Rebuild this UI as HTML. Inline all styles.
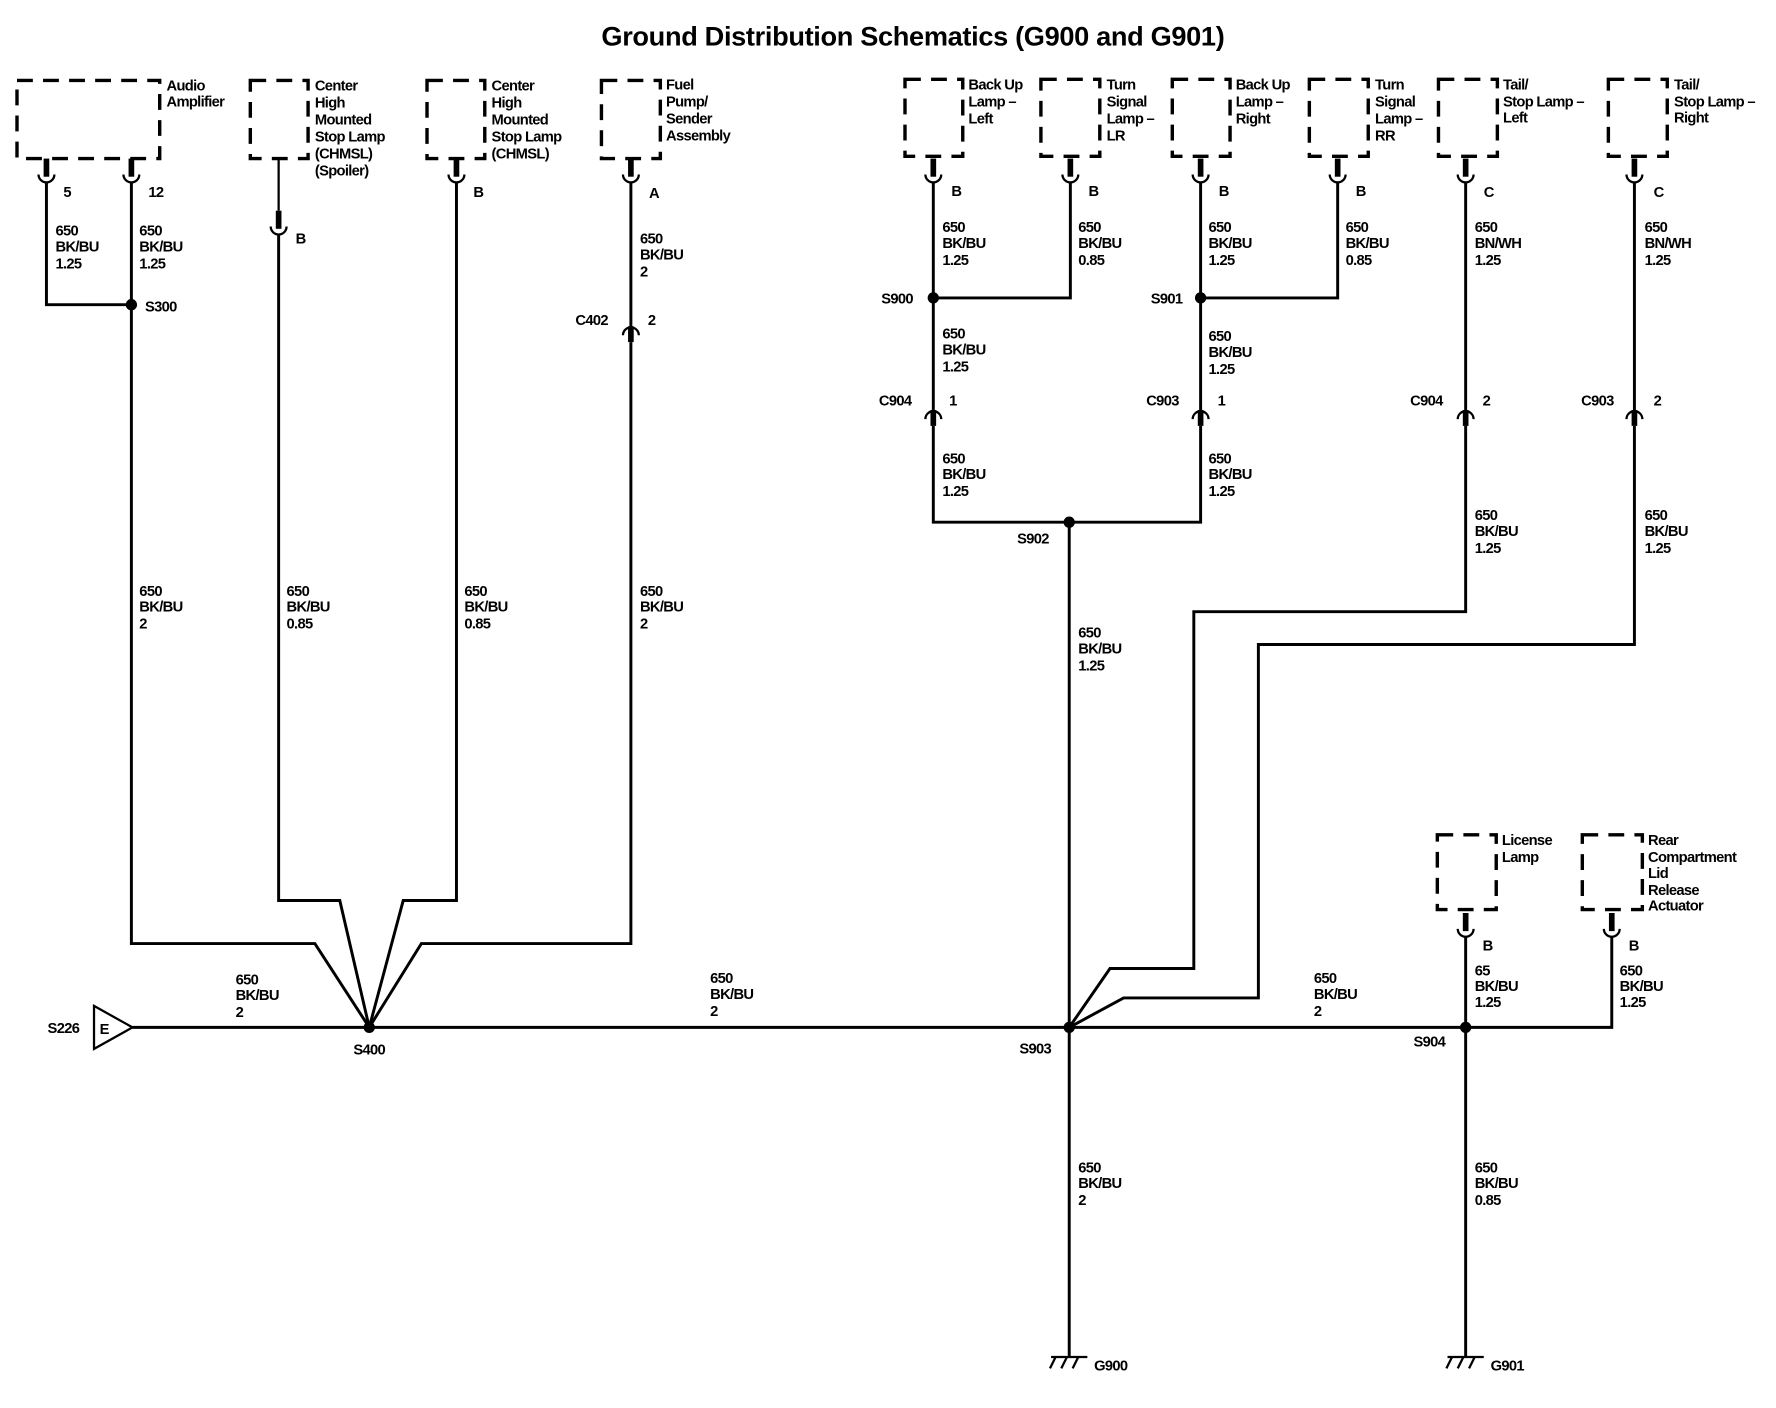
<!DOCTYPE html>
<html><head><meta charset="utf-8"><style>
html,body{margin:0;padding:0;background:#fff}
svg{display:block}
text{font-family:"Liberation Sans",Arial,sans-serif;font-size:13px;fill:#000;letter-spacing:-0.6px;font-weight:bold}
.t{font-size:24px;letter-spacing:-0.3px}
.w{stroke:#000;stroke-width:2.6;fill:none}
.d{stroke:#000;stroke-width:3;fill:none;stroke-dasharray:14,9}
.s{stroke:#000;stroke-width:2;fill:none}
.st{stroke:#000;stroke-width:5;fill:none}
</style></head><body>
<svg width="1776" height="1408" viewBox="0 0 1568 1243" preserveAspectRatio="none" xmlns="http://www.w3.org/2000/svg">
<defs>
<g id="cup"><path class="st" d="M0,-14 V2"/><path class="s" d="M-7,0 A7,7 0 0 0 7,0"/></g>
<g id="cupd"><path class="st" d="M0,0 V14"/><path class="s" d="M-7,8 A7,7 0 0 1 7,8"/></g>
</defs>
<text x="806" y="40" text-anchor="middle" class="t">Ground Distribution Schematics (G900 and G901)</text>

<!-- boxes -->
<rect class="d" x="15" y="71" width="126" height="69"/>
<rect class="d" x="221" y="71" width="51" height="69"/>
<rect class="d" x="377" y="71" width="51" height="69"/>
<rect class="d" x="531" y="71" width="52" height="69"/>
<rect class="d" x="799" y="70" width="51" height="68"/>
<rect class="d" x="919" y="70" width="52" height="68"/>
<rect class="d" x="1035" y="70" width="51" height="68"/>
<rect class="d" x="1156" y="70" width="52" height="68"/>
<rect class="d" x="1270" y="70" width="52" height="68"/>
<rect class="d" x="1420" y="70" width="52" height="68"/>
<rect class="d" x="1269" y="737" width="52" height="66"/>
<rect class="d" x="1397" y="737" width="53" height="66"/>

<g text-anchor="start">
<text x="147" y="80">Audio</text><text x="147" y="94">Amplifier</text>
<text x="278" y="80">Center</text><text x="278" y="95">High</text><text x="278" y="110">Mounted</text><text x="278" y="125">Stop Lamp</text><text x="278" y="140">(CHMSL)</text><text x="278" y="155">(Spoiler)</text>
<text x="434" y="80">Center</text><text x="434" y="95">High</text><text x="434" y="110">Mounted</text><text x="434" y="125">Stop Lamp</text><text x="434" y="140">(CHMSL)</text>
<text x="588" y="79">Fuel</text><text x="588" y="94">Pump/</text><text x="588" y="109">Sender</text><text x="588" y="124">Assembly</text>
<text x="855" y="79">Back Up</text><text x="855" y="94">Lamp –</text><text x="855" y="109">Left</text>
<text x="977" y="79">Turn</text><text x="977" y="94">Signal</text><text x="977" y="109">Lamp –</text><text x="977" y="124">LR</text>
<text x="1091" y="79">Back Up</text><text x="1091" y="94">Lamp –</text><text x="1091" y="109">Right</text>
<text x="1214" y="79">Turn</text><text x="1214" y="94">Signal</text><text x="1214" y="109">Lamp –</text><text x="1214" y="124">RR</text>
<text x="1327" y="79">Tail/</text><text x="1327" y="94">Stop Lamp –</text><text x="1327" y="108">Left</text>
<text x="1478" y="79">Tail/</text><text x="1478" y="94">Stop Lamp –</text><text x="1478" y="108">Right</text>
<text x="1326" y="746">License</text><text x="1326" y="761">Lamp</text>
<text x="1455" y="746">Rear</text><text x="1455" y="761">Compartment</text><text x="1455" y="775">Lid</text><text x="1455" y="790">Release</text><text x="1455" y="804">Actuator</text>
</g>

<!-- cups -->
<use href="#cup" x="41" y="154"/><use href="#cup" x="116" y="154"/>
<use href="#cup" x="246" y="200"/><use href="#cup" x="403" y="154"/><use href="#cup" x="557" y="154"/>
<use href="#cupd" x="557" y="288"/>
<use href="#cup" x="824" y="154"/><use href="#cup" x="945" y="154"/><use href="#cup" x="1060" y="154"/><use href="#cup" x="1181" y="154"/><use href="#cup" x="1294" y="154"/><use href="#cup" x="1443" y="154"/>
<use href="#cupd" x="824" y="362"/><use href="#cupd" x="1060" y="362"/><use href="#cupd" x="1294" y="362"/><use href="#cupd" x="1443" y="362"/>
<use href="#cup" x="1294" y="820"/><use href="#cup" x="1423" y="820"/>

<!-- wires -->
<path class="w" d="M41,161 V269 H116"/>
<path class="w" d="M116,161 V833 H278 L326,907"/>
<path class="s" d="M246,140 V186"/>
<path class="w" d="M246,207 V795 H300 L326,907"/>
<path class="w" d="M403,161 V795 H356 L326,907"/>
<path class="w" d="M557,161 V290"/>
<path class="w" d="M557,302 V833 H372 L326,907"/>
<path class="w" d="M117,907 H1294 H1423 V827"/>
<path class="w" d="M824,161 V362"/><path class="w" d="M945,161 V263 H824"/>
<path class="w" d="M1060,161 V362"/><path class="w" d="M1181,161 V263 H1060"/>
<path class="w" d="M824,376 V461 H1060 V376"/>
<path class="w" d="M944,461 V1198"/>
<path class="w" d="M1294,161 V362"/><path class="w" d="M1294,376 V540 H1054 V855 H980 L944,907"/>
<path class="w" d="M1443,161 V362"/><path class="w" d="M1443,376 V569 H1111 V881 H992 L944,907"/>
<path class="w" d="M1294,827 V1198"/>

<!-- splices -->
<circle cx="116" cy="269" r="5"/><circle cx="326" cy="907" r="5"/><circle cx="824" cy="263" r="5"/><circle cx="1060" cy="263" r="5"/>
<circle cx="944" cy="461" r="5"/><circle cx="944" cy="907" r="5"/><circle cx="1294" cy="907" r="5"/>

<!-- S226 triangle -->
<path class="s" d="M83,888 L117,907 L83,926 Z" style="stroke-width:2"/>
<text x="88" y="913">E</text>
<text x="42" y="912">S226</text>

<!-- grounds -->
<g class="s"><path d="M928,1198 H960 M932,1198 l-5,10 M942,1198 l-5,10 M952,1198 l-5,10"/>
<path d="M1278,1198 H1310 M1282,1198 l-5,10 M1292,1198 l-5,10 M1302,1198 l-5,10"/></g>
<text x="966" y="1210">G900</text><text x="1316" y="1210">G901</text>

<!-- pin labels -->
<text x="56" y="174">5</text><text x="131" y="174">12</text><text x="261" y="215">B</text><text x="418" y="174">B</text><text x="573" y="175">A</text>
<text x="840" y="173">B</text><text x="961" y="173">B</text><text x="1076" y="173">B</text><text x="1197" y="173">B</text><text x="1310" y="174">C</text><text x="1460" y="174">C</text>
<text x="1309" y="839">B</text><text x="1438" y="839">B</text>
<text x="508" y="287">C402</text><text x="572" y="287">2</text>
<text x="776" y="358">C904</text><text x="838" y="358">1</text>
<text x="1012" y="358">C903</text><text x="1075" y="358">1</text>
<text x="1245" y="358">C904</text><text x="1309" y="358">2</text>
<text x="1396" y="358">C903</text><text x="1460" y="358">2</text>
<text x="128" y="275">S300</text><text x="778" y="268">S900</text><text x="1016" y="268">S901</text>
<text x="898" y="480">S902</text><text x="312" y="931">S400</text><text x="900" y="930">S903</text><text x="1248" y="924">S904</text>

<!-- wire labels -->
<g>
<text x="49" y="208">650</text><text x="49" y="222">BK/BU</text><text x="49" y="237">1.25</text>
<text x="123" y="208">650</text><text x="123" y="222">BK/BU</text><text x="123" y="237">1.25</text>
<text x="565" y="215">650</text><text x="565" y="229">BK/BU</text><text x="565" y="244">2</text>
<text x="123" y="526">650</text><text x="123" y="540">BK/BU</text><text x="123" y="555">2</text>
<text x="253" y="526">650</text><text x="253" y="540">BK/BU</text><text x="253" y="555">0.85</text>
<text x="410" y="526">650</text><text x="410" y="540">BK/BU</text><text x="410" y="555">0.85</text>
<text x="565" y="526">650</text><text x="565" y="540">BK/BU</text><text x="565" y="555">2</text>
<text x="208" y="869">650</text><text x="208" y="883">BK/BU</text><text x="208" y="898">2</text>
<text x="627" y="868">650</text><text x="627" y="882">BK/BU</text><text x="627" y="897">2</text>
<text x="1160" y="868">650</text><text x="1160" y="882">BK/BU</text><text x="1160" y="897">2</text>
<text x="832" y="205">650</text><text x="832" y="219">BK/BU</text><text x="832" y="234">1.25</text>
<text x="952" y="205">650</text><text x="952" y="219">BK/BU</text><text x="952" y="234">0.85</text>
<text x="1067" y="205">650</text><text x="1067" y="219">BK/BU</text><text x="1067" y="234">1.25</text>
<text x="1188" y="205">650</text><text x="1188" y="219">BK/BU</text><text x="1188" y="234">0.85</text>
<text x="1302" y="205">650</text><text x="1302" y="219">BN/WH</text><text x="1302" y="234">1.25</text>
<text x="1452" y="205">650</text><text x="1452" y="219">BN/WH</text><text x="1452" y="234">1.25</text>
<text x="832" y="299">650</text><text x="832" y="313">BK/BU</text><text x="832" y="328">1.25</text>
<text x="1067" y="301">650</text><text x="1067" y="315">BK/BU</text><text x="1067" y="330">1.25</text>
<text x="832" y="409">650</text><text x="832" y="423">BK/BU</text><text x="832" y="438">1.25</text>
<text x="1067" y="409">650</text><text x="1067" y="423">BK/BU</text><text x="1067" y="438">1.25</text>
<text x="1302" y="459">650</text><text x="1302" y="473">BK/BU</text><text x="1302" y="488">1.25</text>
<text x="1452" y="459">650</text><text x="1452" y="473">BK/BU</text><text x="1452" y="488">1.25</text>
<text x="952" y="563">650</text><text x="952" y="577">BK/BU</text><text x="952" y="592">1.25</text>
<text x="1302" y="861">65</text><text x="1302" y="875">BK/BU</text><text x="1302" y="889">1.25</text>
<text x="1430" y="861">650</text><text x="1430" y="875">BK/BU</text><text x="1430" y="889">1.25</text>
<text x="952" y="1035">650</text><text x="952" y="1049">BK/BU</text><text x="952" y="1064">2</text>
<text x="1302" y="1035">650</text><text x="1302" y="1049">BK/BU</text><text x="1302" y="1064">0.85</text>
</g>
</svg>
</body></html>
